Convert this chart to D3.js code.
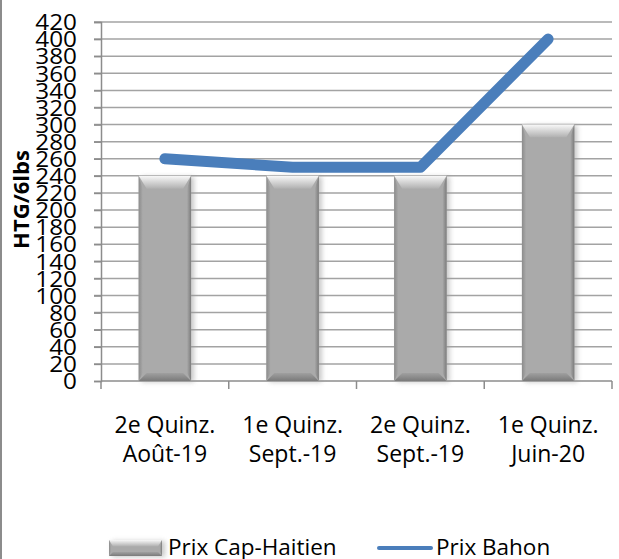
<!DOCTYPE html>
<html><head><meta charset="utf-8">
<script src="https://cdn.jsdelivr.net/npm/d3@7/dist/d3.min.js"></script>
<style>body{margin:0;background:#fff}svg{display:block}</style>
</head><body>
<script>
const categories = [["2e Quinz.","Août-19"],["1e Quinz.","Sept.-19"],["2e Quinz.","Sept.-19"],["1e Quinz.","Juin-20"]];
const capHaitien = [240, 240, 240, 300];
const bahon = [260, 250, 250, 400];
const yTicks = d3.range(0, 421, 20);
const seriesNames = ["Prix Cap-Haitien", "Prix Bahon"];

const W = 619, H = 559;
const m = {left: 101, right: 7, top: 22, bottom: 178};
const svg = d3.select("body").append("svg").attr("width", W).attr("height", H);
const font = "'Open Sans', 'Liberation Sans', sans-serif";

const defs = svg.append("defs");
const gTop = defs.append("linearGradient").attr("id","gTop").attr("x1",0).attr("y1",0).attr("x2",0).attr("y2",1);
gTop.append("stop").attr("offset","0").attr("stop-color","#f8f8f8");
gTop.append("stop").attr("offset","1").attr("stop-color","#b0b0b0");
const gBot = defs.append("linearGradient").attr("id","gBot").attr("x1",0).attr("y1",0).attr("x2",0).attr("y2",1);
gBot.append("stop").attr("offset","0").attr("stop-color","#a0a0a0");
gBot.append("stop").attr("offset","1").attr("stop-color","#7a7a7a");
const gL = defs.append("linearGradient").attr("id","gL").attr("x1",0).attr("y1",0).attr("x2",1).attr("y2",0);
gL.append("stop").attr("offset","0").attr("stop-color","#8c8c8c");
gL.append("stop").attr("offset","1").attr("stop-color","#a8a8a8");
const gR = defs.append("linearGradient").attr("id","gR").attr("x1",0).attr("y1",0).attr("x2",1).attr("y2",0);
gR.append("stop").attr("offset","0").attr("stop-color","#a8a8a8");
gR.append("stop").attr("offset","1").attr("stop-color","#7c7c7c");
const blur = defs.append("filter").attr("id","shadow").attr("x","-50%").attr("y","-50%").attr("width","200%").attr("height","200%");
blur.append("feGaussianBlur").attr("stdDeviation", 2.5);

// left border
svg.append("line").attr("x1",1).attr("x2",1).attr("y1",0).attr("y2",H).attr("stroke","#8c8c8c").attr("stroke-width",2);

const x = d3.scaleBand().domain(d3.range(categories.length)).range([m.left, W - m.right]);
const y = d3.scaleLinear().domain([0, 420]).range([H - m.bottom, m.top]);

// gridlines
svg.append("g").selectAll("line").data(yTicks.filter(d => d > 0)).join("line")
  .attr("x1", m.left - 7).attr("x2", W - m.right)
  .attr("y1", d => y(d)).attr("y2", d => y(d))
  .attr("stroke", "#a3a3a3").attr("stroke-width", 1.5);

// y axis
const yAxis = svg.append("g").attr("transform", `translate(${m.left},0)`)
  .call(d3.axisLeft(y).tickValues(yTicks).tickSize(7).tickPadding(16));
yAxis.select(".domain").attr("stroke", "#8c8c8c").attr("stroke-width", 1.5);
yAxis.selectAll(".tick line").attr("stroke", "#8c8c8c").attr("stroke-width", 1.5);
yAxis.selectAll(".tick text").attr("font-family", font).attr("font-size", 21.5).attr("fill", "#000")
  .attr("dy", "0.36em").attr("x", 0)
  .attr("transform", "translate(-24,0) scale(1.13,1)");

// x axis
const base = y(0);
svg.append("line").attr("x1", m.left).attr("x2", W - m.right).attr("y1", base).attr("y2", base)
  .attr("stroke", "#8c8c8c").attr("stroke-width", 1.5);
svg.append("g").selectAll("line").data(d3.range(categories.length + 1)).join("line")
  .attr("x1", i => i < categories.length ? x(i) : x(i-1) + x.bandwidth())
  .attr("x2", i => i < categories.length ? x(i) : x(i-1) + x.bandwidth())
  .attr("y1", base).attr("y2", base + 8).attr("stroke", "#8c8c8c").attr("stroke-width", 1.5);

// category labels
const cl = svg.append("g").selectAll("text").data(categories).join("text")
  .attr("x", (d, i) => x(i) + x.bandwidth() / 2).attr("y", base + 52)
  .attr("text-anchor", "middle").attr("font-family", font).attr("font-size", 23).attr("fill", "#000");
cl.append("tspan").attr("x", (d, i) => x(i) + x.bandwidth() / 2).text(d => d[0]);
cl.append("tspan").attr("x", (d, i) => x(i) + x.bandwidth() / 2).attr("dy", 29).text(d => d[1]);

// y title
svg.append("text").attr("transform", `translate(29,${(y(0)+y(420))/2 - 2}) rotate(-90)`)
  .attr("text-anchor", "middle").attr("font-family", font).attr("font-weight", "bold")
  .attr("font-size", 22).text("HTG/6lbs");

// bevel bar drawing
function bevelBar(g, x0, y0, w, h, b) {
  g.append("rect").attr("x", x0 + 3).attr("y", y0 + 1).attr("width", w).attr("height", h)
    .attr("fill", "#9a9a9a").attr("opacity", 0.55).attr("filter", "url(#shadow)");
  g.append("rect").attr("x", x0).attr("y", y0).attr("width", w).attr("height", h).attr("fill", "#aaaaaa");
  const x1 = x0 + w, y1 = y0 + h;
  g.append("polygon").attr("points", [[x0,y0],[x1,y0],[x1-b,y0+b*1.6],[x0+b,y0+b*1.6]].join(" ")).attr("fill","url(#gTop)");
  g.append("polygon").attr("points", [[x0,y1],[x1,y1],[x1-b,y1-b],[x0+b,y1-b]].join(" ")).attr("fill","url(#gBot)");
  g.append("polygon").attr("points", [[x0,y0],[x0+b*0.5,y0+b*1.6],[x0+b*0.5,y1-b],[x0,y1]].join(" ")).attr("fill","url(#gL)");
  g.append("polygon").attr("points", [[x1,y0],[x1-b*0.5,y0+b*1.6],[x1-b*0.5,y1-b],[x1,y1]].join(" ")).attr("fill","url(#gR)");
}

const bw = x.bandwidth() * 0.41;
const bars = svg.append("g");
capHaitien.forEach((v, i) => {
  const g = bars.append("g");
  bevelBar(g, x(i) + (x.bandwidth() - bw) / 2, y(v), bw, base - y(v), 8);
});

// line
const line = d3.line().x((d, i) => x(i) + x.bandwidth() / 2).y(d => y(d));
svg.append("path").datum(bahon).attr("d", line).attr("fill", "none")
  .attr("stroke", "#4a7ebb").attr("stroke-width", 11)
  .attr("stroke-linecap", "round").attr("stroke-linejoin", "round");

// legend
const lg = svg.append("g");
bevelBar(lg.append("g"), 109, 540, 53, 16, 4);
lg.append("text").attr("x", 168).attr("y", 555).attr("font-family", font).attr("font-size", 22.5).text(seriesNames[0]);
lg.append("line").attr("x1", 379).attr("x2", 431).attr("y1", 548).attr("y2", 548)
  .attr("stroke", "#4a7ebb").attr("stroke-width", 4).attr("stroke-linecap", "round");
lg.append("text").attr("x", 436).attr("y", 555).attr("font-family", font).attr("font-size", 22.5).text(seriesNames[1]);
</script>
</body></html>
